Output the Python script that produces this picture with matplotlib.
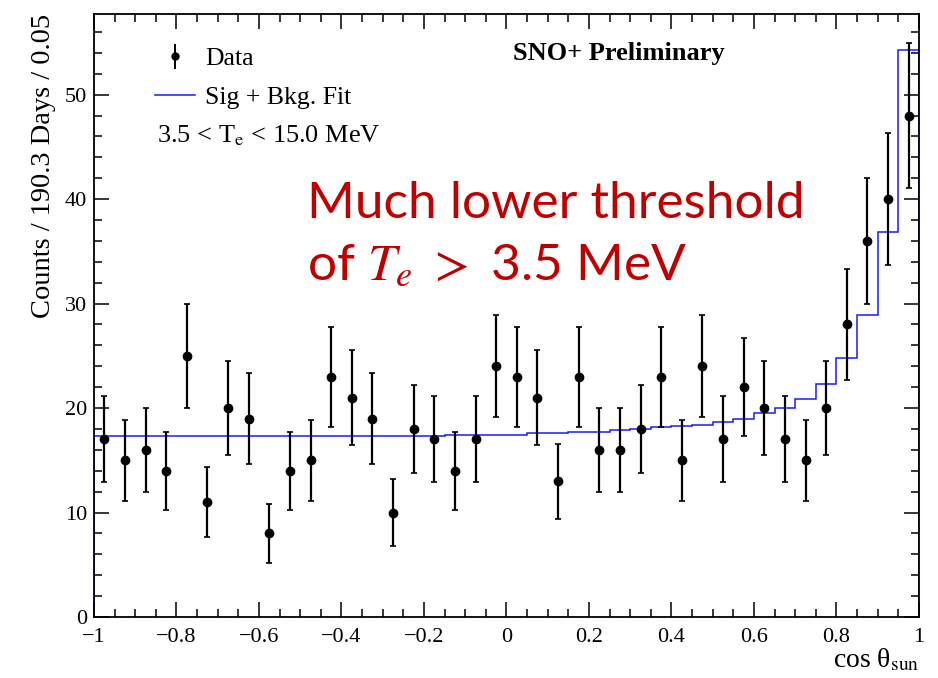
import numpy as np
import matplotlib
matplotlib.use("Agg")
import matplotlib.pyplot as plt
from matplotlib.ticker import MultipleLocator, FixedLocator
from matplotlib.lines import Line2D

plt.rcParams['font.family'] = ['Liberation Serif', 'DejaVu Serif']
plt.rcParams['mathtext.fontset'] = 'stix'

# 40 bins of width 0.05 in cos(theta_sun)
bin_edges = np.round(np.arange(-1.0, 1.0001, 0.05), 3)
bin_centers = (bin_edges[:-1] + bin_edges[1:]) / 2

counts = [17, 15, 16, 14, 25, 11, 20, 19, 8, 14,
          15, 23, 21, 19, 10, 18, 17, 14, 17, 24,
          23, 21, 13, 23, 16, 16, 18, 23, 15, 24,
          17, 22, 20, 17, 15, 20, 28, 36, 40, 48]

fit = [17.3] * 17 + [17.4, 17.4, 17.45, 17.45,
                     17.6, 17.6, 17.7, 17.75, 17.9, 18.0, 18.2, 18.3, 18.4, 18.7,
                     19.0, 19.5, 20.0, 20.9, 22.3, 24.8, 28.9, 36.9, 54.3]

x_ticks = [-1, -0.8, -0.6, -0.4, -0.2, 0, 0.2, 0.4, 0.6, 0.8, 1]
x_tick_labels = ["\u22121", "\u22120.8", "\u22120.6", "\u22120.4", "\u22120.2",
                 "0", "0.2", "0.4", "0.6", "0.8", "1"]

counts = np.array(counts)
errors = np.sqrt(counts)

fig = plt.figure(figsize=(9.38, 6.78), dpi=100)
ax = fig.add_axes([0.1002, 0.09, 0.8795, 0.889])

ax.stairs(fit, bin_edges, color='#1a1aff', lw=1.1, zorder=2)
ax.errorbar(bin_centers, counts, yerr=errors, fmt='o', color='black',
            ms=6, elinewidth=1.6, capsize=2, capthick=1.2, zorder=3)

ax.set_xlim(-1, 1)
ax.set_ylim(0, 57.7)
ax.xaxis.set_major_locator(FixedLocator(x_ticks))
ax.set_xticklabels(x_tick_labels)
ax.xaxis.set_minor_locator(MultipleLocator(0.05))
ax.yaxis.set_major_locator(MultipleLocator(10))
ax.yaxis.set_minor_locator(MultipleLocator(2))
ax.tick_params(which='both', direction='in', top=True, right=True,
               labelsize=16, width=1.1)
ax.tick_params(which='major', length=11)
ax.tick_params(which='minor', length=5.5)
ax.tick_params(axis='x', which='major', pad=8)
ax.tick_params(axis='y', which='major', pad=5)
for s in ax.spines.values():
    s.set_linewidth(1.3)

ax.set_ylabel("Counts / 190.3 Days / 0.05", fontsize=20.5, loc='top', labelpad=6)
ax.set_xlabel("cos \u03b8$_{\\rm sun}$", fontsize=20, loc='right', labelpad=0)

handles = [
    ax.errorbar([], [], yerr=[], fmt='o', color='black', ms=5, elinewidth=1.4),
    Line2D([], [], color='#1a1aff', lw=1.1),
]
ax.legend(handles, ["Data", "Sig + Bkg. Fit"], loc='upper left',
          bbox_to_anchor=(0.074, 0.945), frameon=False, fontsize=18.5,
          borderpad=0, borderaxespad=0,
          handlelength=1.55, handletextpad=0.4, labelspacing=0.6)
ax.text(0.076, 0.799, r"3.5 < T$_{\rm e}$ < 15.0 MeV", transform=ax.transAxes,
        fontsize=19, va='center', ha='left')
ax.text(0.508, 0.935, "SNO+ Preliminary", transform=ax.transAxes,
        fontsize=19, fontweight='bold', va='center', ha='left')

ax.text(0.258, 0.662, "Much lower threshold", transform=ax.transAxes,
        fontsize=37, color='#c00000', family=['Lato', 'DejaVu Sans'],
        va='baseline', ha='left')
ax.text(0.258, 0.559, r"of $T_e$ $>$ 3.5 MeV", transform=ax.transAxes,
        fontsize=37, color='#c00000', family=['Lato', 'DejaVu Sans'],
        va='baseline', ha='left')

fig.savefig("out.png", dpi=100)
